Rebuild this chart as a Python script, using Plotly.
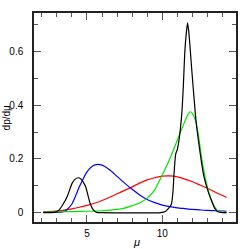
import plotly.graph_objects as go

# black curve
black_x = [2.1, 2.9, 3.15, 3.4, 3.7, 4.0, 4.2, 4.42, 4.6, 4.9, 5.2, 5.45, 5.65, 6.0,
           9.9, 10.2, 10.4, 10.6, 10.7, 10.8, 10.9, 11.0, 11.1, 11.2, 11.3, 11.4, 11.5,
           11.6, 11.68, 11.75, 11.83, 11.95, 12.05, 12.23, 12.4, 12.6, 12.75, 12.95,
           13.1, 13.27, 13.5, 13.7, 14.0, 14.27]
black_y = [0, 0.002, 0.01, 0.03, 0.062, 0.108, 0.124, 0.13, 0.125, 0.098, 0.036, 0.008, 0.001, 0,
           0, 0.004, 0.015, 0.03, 0.07, 0.16, 0.22, 0.235, 0.265, 0.31, 0.37, 0.47, 0.6,
           0.67, 0.707, 0.68, 0.63, 0.54, 0.47, 0.35, 0.27, 0.19, 0.14, 0.097,
           0.07, 0.045, 0.015, 0.003, 0, 0]

# blue curve
blue_x = [2.1, 3.0, 3.3, 3.6, 4.0, 4.5, 5.0, 5.4, 5.7, 6.0, 6.5, 7.0, 7.5, 8.0, 8.5, 9.0,
          9.5, 10.0, 10.5, 11.0, 11.5, 12.0, 12.5, 13.0, 13.5, 14.0, 14.27]
blue_y = [0.001, 0.001, 0.002, 0.008, 0.032, 0.097, 0.152, 0.175, 0.18, 0.177, 0.16, 0.135,
          0.11, 0.087, 0.066, 0.049, 0.037, 0.028, 0.022, 0.018, 0.015, 0.012, 0.01, 0.008,
          0.007, 0.006, 0.005]

# red curve
red_x = [2.1, 3.0, 3.5, 4.0, 4.5, 5.0, 5.5, 6.0, 6.5, 7.0, 7.5, 8.0, 8.5, 9.0, 9.5, 10.0,
         10.5, 11.0, 11.5, 12.0, 12.5, 13.0, 13.5, 14.0, 14.27]
red_y = [0.003, 0.006, 0.009, 0.014, 0.02, 0.027, 0.035, 0.045, 0.057, 0.07, 0.083, 0.096,
         0.11, 0.122, 0.13, 0.136, 0.137, 0.133, 0.125, 0.115, 0.103, 0.091, 0.077, 0.064, 0.057]

# green curve
green_x = [2.1, 3.0, 4.0, 5.0, 6.0, 7.0, 7.5, 8.0, 8.5, 9.0, 9.5, 10.0, 10.5, 11.0, 11.5,
           11.7, 11.87, 12.0, 12.2, 12.4, 12.6, 12.75, 13.0, 13.25, 13.5, 13.75, 14.0, 14.27]
green_y = [0.002, 0.003, 0.004, 0.005, 0.007, 0.012, 0.017, 0.026, 0.036, 0.054, 0.085, 0.14,
           0.2, 0.27, 0.34, 0.365, 0.376, 0.37, 0.345, 0.29, 0.21, 0.16, 0.095, 0.05, 0.02,
           0.004, 0.001, 0]

x_title = "<i>μ</i>"
y_title = "dp/dμ"

fig = go.Figure()
for xs, ys, col in [(red_x, red_y, "#ff0000"), (blue_x, blue_y, "#0000ff"),
                    (green_x, green_y, "#00e600"), (black_x, black_y, "#000000")]:
    fig.add_trace(go.Scatter(x=xs, y=ys, mode="lines",
                             line=dict(color=col, width=1.2, shape="spline", smoothing=0.6),
                             showlegend=False, hoverinfo="skip"))

font = dict(family="Liberation Sans, Arial, sans-serif", size=10, color="black")
tickcol = "#555"
fig.update_layout(
    template="none",
    width=249, height=249,
    margin=dict(l=34, r=13, t=13, b=27, autoexpand=False),
    paper_bgcolor="white", plot_bgcolor="white",
    font=font,
    xaxis=dict(range=[1.48, 14.9], tickmode="linear", tick0=0, dtick=5,
               ticks="inside", ticklen=7, tickcolor=tickcol, tickwidth=1, mirror="allticks",
               showline=True, linecolor="#222", linewidth=1.5,
               showgrid=False, zeroline=False, automargin=False,
               minor=dict(dtick=1, tick0=0, ticks="inside", ticklen=4, tickcolor=tickcol,
                          tickwidth=1, showgrid=False),
               ticklabelstandoff=1),
    yaxis=dict(range=[-0.035, 0.744], tickmode="linear", tick0=0, dtick=0.2,
               ticks="inside", ticklen=7, tickcolor=tickcol, tickwidth=1, mirror="allticks",
               showline=True, linecolor="#222", linewidth=1.5,
               showgrid=False, zeroline=False, automargin=False,
               minor=dict(dtick=0.1, tick0=0, ticks="inside", ticklen=4, tickcolor=tickcol,
                          tickwidth=1, showgrid=False),
               tickformat="~g",
               ticklabelstandoff=7),
    annotations=[
        dict(text=x_title, xref="paper", yref="paper", x=0.505, y=-0.096,
             xanchor="center", yanchor="middle", showarrow=False, font=dict(size=11)),
        dict(text=y_title, xref="paper", yref="paper", x=-0.134, y=0.5, textangle=-90,
             xanchor="center", yanchor="middle", showarrow=False, font=dict(size=10)),
    ],
)
fig.write_html("out.html", config={"displayModeBar": False},
               post_script="document.body.style.margin='0';document.body.style.padding='0';")
